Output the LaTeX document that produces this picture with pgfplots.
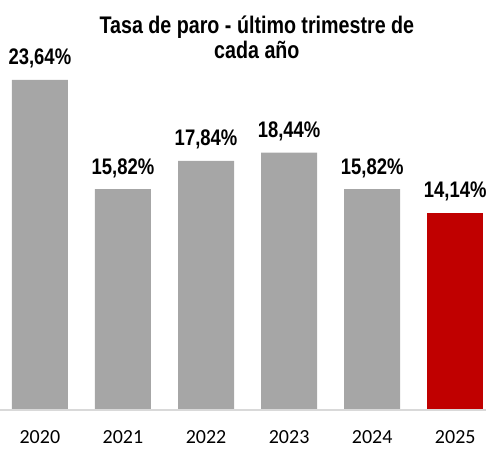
\documentclass[border=0pt]{standalone}
\usepackage{fontspec}
\setmainfont{Carlito}
\newfontfamily\narrow[FakeStretch=0.82]{Liberation Sans}
\usepackage{pgfplots}
\pgfplotsset{compat=1.18}
\definecolor{bargray}{RGB}{166,166,166}
\definecolor{barred}{RGB}{192,0,0}
\definecolor{axgray}{RGB}{217,217,217}
\begin{document}
\begin{tikzpicture}
\begin{axis}[
  scale only axis,
  width=486pt, height=400pt,
  xmin=-0.48, xmax=5.37,
  ymin=0, ymax=28.65,
  ybar, bar width=56pt,
  axis line style={draw=none},
  ytick=\empty,
  xtick={0,1,2,3,4,5},
  xticklabels={2020,2021,2022,2023,2024,2025},
  major tick length=0pt,
  xticklabel style={font=\fontsize{20}{24}\selectfont, anchor=base, yshift=-33pt},
  clip=false,
  nodes near coords={\pgfmathprintnumber[fixed,fixed zerofill,precision=2,use comma,assume math mode=true]{\pgfplotspointmeta}\%},
  every node near coord/.append style={font=\narrow\bfseries\fontsize{22.5}{26}\selectfont, anchor=base, inner sep=0pt, yshift=15pt, text=black},
]
\addplot[fill=bargray, draw=none, bar shift=0pt] coordinates {(0,23.64) (1,15.82) (2,17.84) (3,18.44) (4,15.82)};
\addplot[fill=barred, draw=none, bar shift=0pt] coordinates {(5,14.14)};
\draw[axgray, line width=1.5pt] (rel axis cs:0,0) -- (rel axis cs:1,0);
\node[font=\narrow\bfseries\fontsize{24}{28}\selectfont, anchor=base, inner sep=0pt] at (axis cs:2.612,27.0) {Tasa de paro - último trimestre de};
\node[font=\narrow\bfseries\fontsize{24}{28}\selectfont, anchor=base, inner sep=0pt] at (axis cs:2.612,25.2) {cada año};
\end{axis}
\pgfresetboundingbox
\useasboundingbox ([yshift=-38pt]current axis.south west) rectangle ([yshift=10pt]current axis.north east);
\end{tikzpicture}
\end{document}
